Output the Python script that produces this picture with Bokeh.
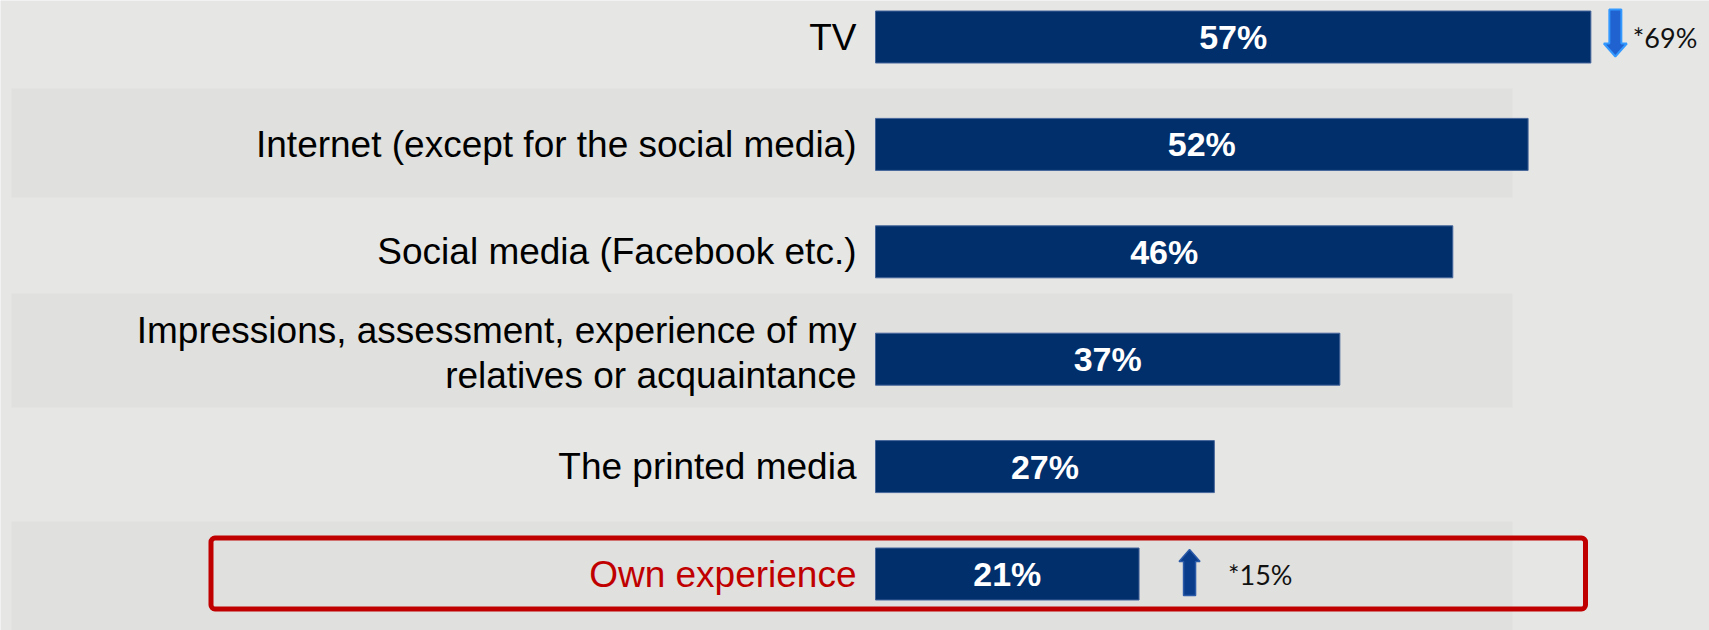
from bokeh.plotting import figure
from bokeh.models import Range1d, BoxAnnotation
from bokeh.core.properties import value
from bokeh.embed import file_html
from bokeh.resources import INLINE

# ---------------- data ----------------
categories = [
    "TV",
    "Internet (except for the social media)",
    "Social media (Facebook etc.)",
    "Impressions, assessment, experience of my\nrelatives or acquaintance",
    "The printed media",
    "Own experience",
]
values = [57, 52, 46, 37, 27, 21]
highlight = [False, False, False, False, False, True]
# trend notes: (row index, direction, text)
note_rows = [0, 5]
note_dirs = ["down", "up"]
note_texts = ["*69%", "*15%"]

# ---------------- layout / style ----------------
W, H = 1709, 630
K = 12.55          # px per percent
X0 = 875           # px where 0% sits
ROW = 107.4        # px per row
ROW0 = 36.5        # px of first row centre from top
BAND_PX = [(88, 197), (293, 407), (521, 640)]   # shaded background stripes (top, bottom px)
BAND_X_PX = (11, 1512)

BG = "#E6E6E5"
BAND = "#E0E0DE"
BAR = "#002F6C"
RED = "#C00000"


def ypx(py):
    """pixel row from top -> data y"""
    return (ROW0 - py) / ROW


def xpx(px):
    return (px - X0) / K


p = figure(width=W, height=H, output_backend="svg", toolbar_location=None,
           x_range=Range1d(xpx(0), xpx(W)),
           y_range=Range1d(ypx(H), ypx(0)),
           min_border=0, min_border_left=0, min_border_right=0,
           min_border_top=0, min_border_bottom=0)
p.xaxis.visible = False
p.yaxis.visible = False
p.grid.visible = False
p.outline_line_color = None
p.background_fill_color = BG
p.border_fill_color = BG

ys = [-i for i in range(len(categories))]

# background bands
p.quad(left=xpx(BAND_X_PX[0]), right=xpx(BAND_X_PX[1]),
       top=[ypx(t) for t, b in BAND_PX], bottom=[ypx(b) for t, b in BAND_PX],
       fill_color=BAND, line_color=None)

# bars
p.hbar(y=ys, left=0, right=values, height=52 / ROW,
       fill_color=BAR, line_color="#45659A", line_width=1)

# category labels
colors = [RED if h else "#000000" for h in highlight]
yoff = [-6 if "\n" in c else 0 for c in categories]
p.text(x=0, y=ys, text=categories, x_offset=-19, y_offset=yoff, text_align="right",
       text_baseline="middle", text_font=value("Liberation Sans"),
       text_font_size="37px", text_color=colors, text_line_height=1.1)

# value labels
p.text(x=[v / 2 for v in values], y=ys, text=[f"{v}%" for v in values],
       text_align="center", text_baseline="middle",
       text_font=value("Liberation Sans"), text_font_style="bold",
       text_font_size="34px", text_color="white")

# highlight box
for y, h in zip(ys, highlight):
    if h:
        p.add_layout(BoxAnnotation(left=xpx(210.5), right=xpx(1585),
                                   top=y + 36 / ROW, bottom=y - 35 / ROW,
                                   fill_alpha=0, line_color=RED, line_alpha=1,
                                   line_width=5, border_radius=4))

# trend arrows + notes
arrow_gap = {"down": 24.5, "up": 50.5}
note_gap = {"down": 17.5, "up": 38.5}
for r, d, t in zip(note_rows, note_dirs, note_texts):
    xc = values[r] + arrow_gap[d] / K
    yc = ys[r]
    if d == "down":
        top, bot, hl, hw, sw = -27.5, 19.5, 13, 11.5, 6
        pts = [(-sw, top), (sw, top), (sw, bot - hl), (hw, bot - hl), (0, bot),
               (-hw, bot - hl), (-sw, bot - hl)]
        fill, line, lw = "#1F62D0", "#3399FF", 2
    else:
        top, bot, hl, hw, sw = -24.5, 21.5, 12, 10.5, 6
        pts = [(0, top), (hw, top + hl), (sw, top + hl), (sw, bot), (-sw, bot),
               (-sw, top + hl), (-hw, top + hl)]
        fill, line, lw = "#0A3C8C", "#2A5AA8", 1.5
    px = [xc + dx / K for dx, dy in pts]
    py = [yc - dy / ROW for dx, dy in pts]
    p.patch(px, py, fill_color=fill, line_color=line, line_width=lw)
    p.text(x=[xc], y=[yc], text=[t], x_offset=note_gap[d], text_align="left",
           text_baseline="middle", text_font=value("Lato"),
           text_font_size="27px", text_color="#111111")

open("out.html", "w").write(file_html(p, INLINE))
